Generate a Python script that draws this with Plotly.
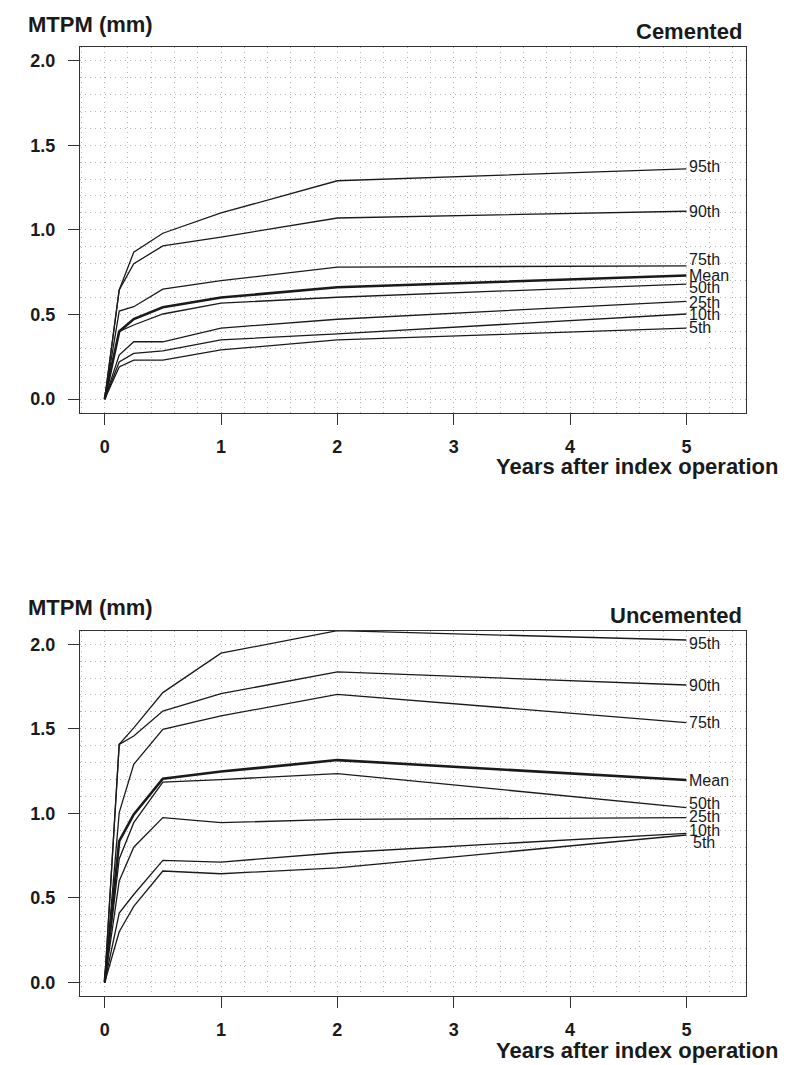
import plotly.graph_objects as go

# ---- data ----
years = [0, 0.125, 0.25, 0.5, 1, 2, 5]
series_names = ["95th", "90th", "75th", "Mean", "50th", "25th", "10th", "5th"]

cemented = {
    "95th": [0, 0.645, 0.868, 0.98, 1.10, 1.29, 1.36],
    "90th": [0, 0.645, 0.80, 0.905, 0.957, 1.07, 1.11],
    "75th": [0, 0.52, 0.546, 0.65, 0.70, 0.78, 0.787],
    "Mean": [0, 0.40, 0.473, 0.543, 0.60, 0.661, 0.73],
    "50th": [0, 0.40, 0.438, 0.503, 0.567, 0.602, 0.68],
    "25th": [0, 0.26, 0.339, 0.339, 0.42, 0.472, 0.578],
    "10th": [0, 0.22, 0.27, 0.285, 0.35, 0.386, 0.503],
    "5th":  [0, 0.19, 0.23, 0.23, 0.291, 0.35, 0.42],
}
uncemented = {
    "95th": [0, 1.408, 1.505, 1.714, 1.947, 2.08, 2.025],
    "90th": [0, 1.408, 1.457, 1.605, 1.708, 1.836, 1.759],
    "75th": [0, 1.004, 1.29, 1.497, 1.576, 1.704, 1.537],
    "Mean": [0, 0.836, 0.994, 1.205, 1.247, 1.315, 1.197],
    "50th": [0, 0.73, 0.945, 1.185, 1.20, 1.235, 1.034],
    "25th": [0, 0.60, 0.80, 0.975, 0.945, 0.964, 0.975],
    "10th": [0, 0.41, 0.52, 0.722, 0.712, 0.767, 0.882],
    "5th":  [0, 0.30, 0.45, 0.659, 0.643, 0.678, 0.872],
}
panel_titles = ["Cemented", "Uncemented"]
y_label = "MTPM (mm)"
x_label = "Years after index operation"
x_ticks = [0, 1, 2, 3, 4, 5]
y_ticks = [0.0, 0.5, 1.0, 1.5, 2.0]

# ---- style ----
OFF = 8  # page body margin: figure starts 8px in from the window corner
W, H = 788 - OFF, 1065 - OFF
ML, MT = 80 - OFF, 47 - OFF
MR, MB = 42, 69
PW, PH = W - ML - MR, H - MT - MB
FONT = "Liberation Sans, Arial, Helvetica, sans-serif"
INK = "#1a1a1a"
GRID = "#b4b4b4"
GDASH = "1px,4px"

def px(x):
    # window pixel -> paper x
    return (x - OFF - ML) / PW

def py(y):
    # window pixel -> paper y
    return (H - MB - (y - OFF)) / PH

# label shifts (pixels, + = up) to keep end labels apart
label_shift = [
    {"95th": 2, "90th": 0, "75th": 6, "Mean": 0, "50th": -3, "25th": -1, "10th": -1, "5th": 1},
    {"95th": -4, "90th": -1, "75th": 0, "Mean": 0, "50th": 4, "25th": 1, "10th": 3, "5th": -7},
]
label_xshift = [
    {k: 1 for k in series_names},
    {**{k: 1 for k in series_names}, "5th": 5},
]

fig = go.Figure()
panels = [cemented, uncemented]
axes = [("x", "y"), ("x2", "y2")]
annotations = []

for i, (data, (xa, ya)) in enumerate(zip(panels, axes)):
    for name in series_names:
        vals = data[name]
        fig.add_trace(go.Scatter(
            x=years, y=vals, mode="lines", xaxis=xa, yaxis=ya,
            line=dict(color=INK, width=2.6 if name == "Mean" else 1.3),
            showlegend=False, hoverinfo="skip",
        ))
        annotations.append(dict(
            x=years[-1], y=vals[-1], xref=xa, yref=ya, text=name,
            showarrow=False, xanchor="left", yanchor="middle",
            xshift=label_xshift[i][name], yshift=label_shift[i][name],
            font=dict(family=FONT, size=16, color=INK),
        ))

domains = [[py(412.7), 1.0], [0.0, py(630.7)]]
box_tops = [47, 630.7]
box_bottoms = [412.7, 996]

axis_common = dict(
    showline=True, linecolor="#333333", linewidth=1.4, mirror=True,
    ticks="outside", ticklen=11, tickwidth=1.3, tickcolor="#333333",
    zeroline=False, showgrid=True, gridcolor=GRID, griddash=GDASH, gridwidth=1,
    tickfont=dict(family=FONT, size=18, color=INK, weight="bold"),
)

layout = dict(
    width=W, height=H, margin=dict(l=ML, r=MR, t=MT, b=MB),
    paper_bgcolor="white", plot_bgcolor="white",
)
for i in range(2):
    sfx = "" if i == 0 else "2"
    layout["xaxis" + sfx] = dict(
        axis_common, domain=[0, 1], range=[-0.212, 5.512],
        tickvals=x_ticks, ticktext=[str(v) for v in x_ticks],
        ticklabelstandoff=6,
        anchor="y" + sfx,
        minor=dict(dtick=0.2, tick0=0, showgrid=True, gridcolor=GRID,
                   griddash=GDASH, gridwidth=1, ticks=""),
    )
    layout["yaxis" + sfx] = dict(
        axis_common, domain=domains[i], range=[-0.08, 2.08],
        tickvals=y_ticks, ticktext=[f"{v:.1f}" for v in y_ticks],
        ticklabelstandoff=9,
        anchor="x" + sfx,
        minor=dict(dtick=0.1, tick0=0, showgrid=True, gridcolor=GRID,
                   griddash=GDASH, gridwidth=1, ticks=""),
    )
    top = box_tops[i]
    bot = box_bottoms[i]
    annotations.append(dict(
        x=px(26), y=py(top - 23), xref="paper", yref="paper", text=y_label,
        showarrow=False, xanchor="left", yanchor="middle",
        font=dict(family=FONT, size=22, color=INK, weight="bold"),
    ))
    annotations.append(dict(
        x=px(744), y=py(top - 15), xref="paper", yref="paper", text=panel_titles[i],
        showarrow=False, xanchor="right", yanchor="middle",
        font=dict(family=FONT, size=22, color=INK, weight="bold"),
    ))
    annotations.append(dict(
        x=px(780), y=py(bot + 54), xref="paper", yref="paper", text=x_label,
        showarrow=False, xanchor="right", yanchor="middle",
        font=dict(family=FONT, size=22, color=INK, weight="bold"),
    ))

layout["annotations"] = annotations
fig.update_layout(**layout)
fig.write_html("out.html")
